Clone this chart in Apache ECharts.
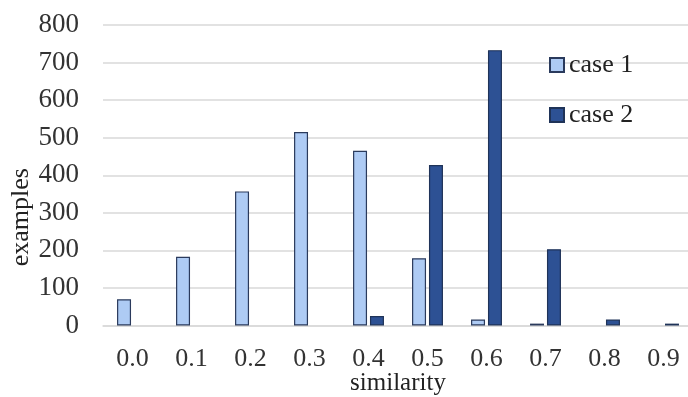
<!DOCTYPE html>
<html>
<head>
<meta charset="utf-8">
<script src="https://cdn.jsdelivr.net/npm/echarts@6/dist/echarts.min.js"></script>
<style>html,body{margin:0;padding:0;background:#fff}#c{width:688px;height:397px}</style>
</head>
<body>
<div id="c"></div>
<script>
const categories = ['0.0','0.1','0.2','0.3','0.4','0.5','0.6','0.7','0.8','0.9'];
const case1 = [70, 183, 357, 515, 465, 179, 16, 5, 0, 0];
const case2 = [0, 0, 0, 0, 25, 427, 733, 203, 16, 5];
const yTicks = { min: 0, max: 800, interval: 100 };

// zero counts are not drawn as marks in the reference
const hideZero = arr => arr.map(v => (v === 0 ? '-' : v));

const FONT = '"Liberation Serif", "Times New Roman", serif';
const chart = echarts.init(document.getElementById('c'));
chart.setOption({
  animation: false,
  backgroundColor: '#ffffff',
  textStyle: { fontFamily: FONT },
  grid: { left: 103, right: -5, top: 25, bottom: 71.5, containLabel: false, outerBoundsMode: 'none' },
  legend: {
    orient: 'vertical',
    left: 544,
    top: 47,
    itemWidth: 14,
    itemHeight: 14,
    itemGap: 24,
    icon: 'rect',
    textStyle: { fontFamily: FONT, fontSize: 26, color: '#222' },
    data: ['case 1', 'case 2']
  },
  xAxis: {
    type: 'category',
    data: categories,
    name: 'similarity',
    nameLocation: 'middle',
    nameGap: 45,
    nameMoveOverlap: false,
    nameTextStyle: { fontFamily: FONT, fontSize: 25, color: '#222' },
    axisLine: { show: true, lineStyle: { color: '#d9d9d9', width: 1.5 } },
    axisTick: { show: false },
    axisLabel: { fontFamily: FONT, fontSize: 26, color: '#333', margin: 21 }
  },
  yAxis: {
    type: 'value',
    min: yTicks.min,
    max: yTicks.max,
    interval: yTicks.interval,
    name: 'examples',
    nameLocation: 'middle',
    nameGap: 69,
    nameMoveOverlap: false,
    nameTextStyle: { fontFamily: FONT, fontSize: 26, color: '#222', padding: [0, 84, 0, 0] },
    axisLine: { show: false },
    axisTick: { show: false },
    axisLabel: { fontFamily: FONT, fontSize: 27, color: '#333', margin: 24 },
    splitLine: { lineStyle: { color: '#d9d9d9', width: 1.5 } }
  },
  series: [
    {
      name: 'case 1',
      type: 'bar',
      data: hideZero(case1),
      barWidth: 14,
      barGap: '21%',
      itemStyle: { color: '#aecbf4', borderColor: '#2a3a5c', borderWidth: 1.2 }
    },
    {
      name: 'case 2',
      type: 'bar',
      data: hideZero(case2),
      barWidth: 14,
      itemStyle: { color: '#2d5194', borderColor: '#1f3358', borderWidth: 1.2 }
    }
  ]
});
</script>
</body>
</html>
